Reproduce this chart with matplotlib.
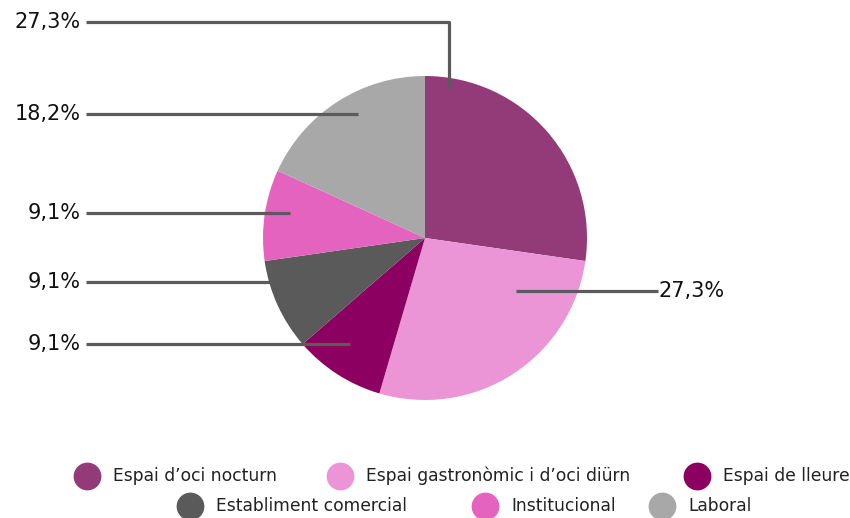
import matplotlib
matplotlib.use('Agg')
import matplotlib.pyplot as plt

# Data
categories = ['Espai d\u2019oci nocturn', 'Espai gastronòmic i d\u2019oci diürn', 'Espai de lleure',
              'Establiment comercial', 'Institucional', 'Laboral']
values = [27.3, 27.3, 9.1, 9.1, 9.1, 18.2]
colors = ['#933b78', '#eb95d7', '#8b0061', '#5a5a5a', '#e463bf', '#a8a8a8']

W, H = 850, 518
fig = plt.figure(figsize=(W / 100, H / 100), dpi=100)
ax = fig.add_axes([0, 0, 1, 1])

# pie (y flipped: pixel y -> H - y)
cx, cy, r = 425, H - 238, 162
ax.pie(values, colors=colors, startangle=90, counterclock=False,
       center=(cx, cy), radius=r, frame=True,
       wedgeprops=dict(linewidth=0))
ax.set_xlim(0, W)
ax.set_ylim(0, H)
ax.axis('off')

lab = lambda v: ('%.1f%%' % v).replace('.', ',')
line_kw = dict(color='#5b5b5b', lw=2.3, solid_capstyle='butt', zorder=5)
txt_kw = dict(fontsize=15, color='#111111', va='center', family='DejaVu Sans')

# leader lines: (label y, anchor x, anchor y) in pixels, left side
left_layout = {5: (114, 358, 114), 4: (213, 290, 213), 3: (282, 270, 282), 2: (344, 350, 344)}
for i, (ly, axx, ayy) in left_layout.items():
    ax.plot([86, axx], [H - ly, H - ayy], **line_kw)
    ax.text(81, H - ly, lab(values[i]), ha='right', **txt_kw)

# first slice: elbow line at top
ax.plot([86, 449, 449], [H - 22, H - 22, H - 88], **line_kw)
ax.text(81, H - 22, lab(values[0]), ha='right', **txt_kw)

# second slice: right side
ax.plot([516, 658], [H - 291, H - 291], **line_kw)
ax.text(659, H - 291, lab(values[1]), ha='left', **txt_kw)

# legend drawn manually in two centred rows
legend_pos = [(87, 476), (340, 476), (697, 476), (190, 506), (485, 506), (662, 506)]
for (mx, my), c, name in zip(legend_pos, colors, categories):
    ax.scatter([mx], [H - my], s=400, color=c, zorder=6, linewidths=0)
    ax.text(mx + 26, H - my, name, fontsize=12.3, color='#222222', va='center', ha='left')

fig.savefig('out.png', dpi=100)
